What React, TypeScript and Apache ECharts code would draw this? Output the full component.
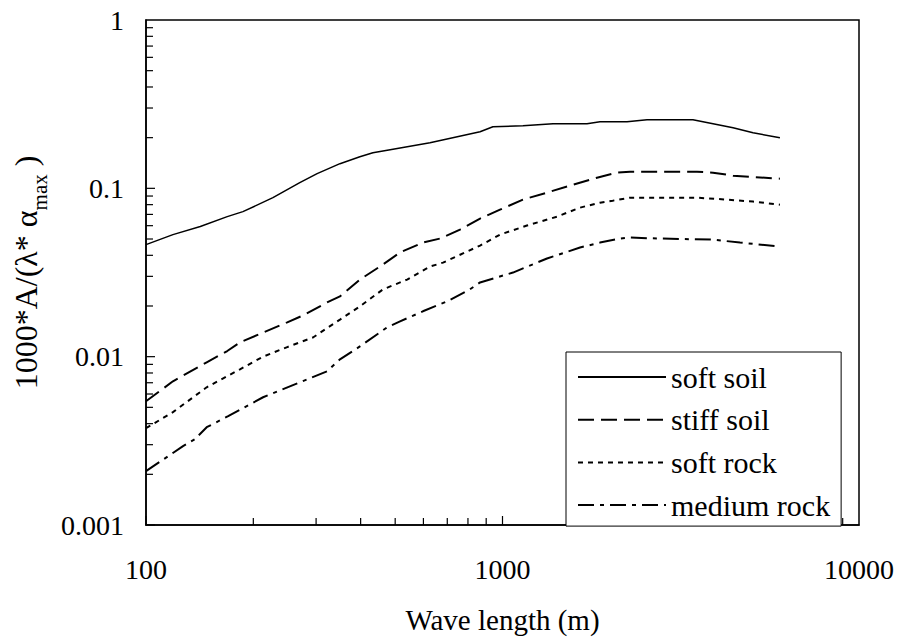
import React, { useEffect, useRef } from "react";
import * as echarts from "echarts";

const FONT = "Liberation Serif";

const seriesNames = ["soft soil", "stiff soil", "soft rock", "medium rock"];

const softSoilX = [100, 119, 142, 169, 187, 227, 270, 302, 350, 398, 433, 484, 626, 865, 940, 1141, 1386, 1726, 1877, 2235, 2543, 3421, 3895, 4433, 5044, 6000];
const softSoilY = [0.0463, 0.0531, 0.0593, 0.0679, 0.0727, 0.088, 0.108, 0.1222, 0.1401, 0.1541, 0.1627, 0.1696, 0.1865, 0.2168, 0.2321, 0.2353, 0.2417, 0.2417, 0.2484, 0.2484, 0.2553, 0.2553, 0.2417, 0.229, 0.2138, 0.1998];

const stiffSoilX = [100, 119, 148, 169, 184, 213, 249, 276, 322, 350, 398, 453, 516, 598, 668, 760, 865, 984, 1141, 1333, 1576, 1841, 2096, 2278, 3513, 3895, 4433, 6000];
const stiffSoilY = [0.00543, 0.00714, 0.00926, 0.0108, 0.0122, 0.0139, 0.016, 0.0176, 0.021, 0.0228, 0.0287, 0.0343, 0.0416, 0.0476, 0.0503, 0.0569, 0.0661, 0.0747, 0.0857, 0.0943, 0.1051, 0.1157, 0.1239, 0.1256, 0.1256, 0.1239, 0.1189, 0.1141];

const softRockX = [100, 119, 148, 183.5, 213, 249, 294, 350, 398, 462, 540, 626, 681, 865, 984, 1171, 1422, 1650, 1877, 2038, 2278, 3513, 4263, 5044, 6000];
const softRockY = [0.00376, 0.00468, 0.00658, 0.00841, 0.01, 0.0114, 0.013, 0.0166, 0.0199, 0.0251, 0.0287, 0.0343, 0.0362, 0.0457, 0.0531, 0.0601, 0.0679, 0.0768, 0.0822, 0.0845, 0.088, 0.088, 0.0857, 0.0834, 0.08];

const mediumRockX = [100, 127, 137, 148, 170, 213, 270, 322, 350, 398, 474, 516, 598, 699, 810, 865, 1070, 1333, 1650, 1877, 2136, 2278, 2766, 3895, 4637, 6000];
const mediumRockY = [0.00209, 0.00294, 0.00323, 0.00381, 0.00443, 0.00574, 0.00704, 0.00819, 0.00964, 0.0115, 0.0149, 0.0162, 0.0186, 0.0213, 0.0251, 0.0276, 0.0316, 0.0383, 0.0445, 0.0476, 0.0503, 0.051, 0.0503, 0.0496, 0.0476, 0.0451];

const xTickLabels = ["100", "1000", "10000"];
const yTickLabels = ["0.001", "0.01", "0.1", "1"];
const xDecades = [100, 1000];
const yDecades = [0.001, 0.01, 0.1];
const minorSteps = [2, 3, 4, 5, 6, 7, 8, 9];

const zip = (xs: number[], ys: number[]) => xs.map((x, i) => [x, ys[i]]);

export default function App() {
  const ref = useRef<HTMLDivElement>(null);
  useEffect(() => {
    if (!ref.current) return;
    const chart = echarts.init(ref.current, undefined, { renderer: "svg" });
    const lineStyles: any[] = [
      { type: "solid", width: 1.5 },
      { type: [16, 7], width: 2 },
      { type: [5, 5], width: 2 },
      { type: [16, 6, 4, 6], width: 2 },
    ];
    const datas = [
      zip(softSoilX, softSoilY),
      zip(stiffSoilX, stiffSoilY),
      zip(softRockX, softRockY),
      zip(mediumRockX, mediumRockY),
    ];
    // tick positions (axis decoration), drawn via the axes' own scales
    const yTicks: number[][] = [];
    yDecades.forEach((d) => {
      yTicks.push([100, d, 9]);
      minorSteps.forEach((m) => yTicks.push([100, d * m, 7]));
    });
    const xTicks: number[][] = [];
    xDecades.forEach((d) => {
      xTicks.push([d, 0.001, 9]);
      minorSteps.forEach((m) => xTicks.push([d * m, 0.001, 7]));
    });

    chart.setOption({
      animation: false,
      backgroundColor: "#fff",
      textStyle: { fontFamily: FONT },
      grid: {
        left: 146,
        right: 39,
        top: 20,
        bottom: 113,
        show: true,
        borderColor: "#000",
        borderWidth: 1.5,
        backgroundColor: "transparent",
      },
      xAxis: {
        type: "log",
        logBase: 10,
        min: 100,
        max: 10000,
        name: "Wave length (m)",
        nameLocation: "middle",
        nameGap: 80,
        nameTextStyle: { fontFamily: FONT, fontSize: 29, color: "#000" },
        axisLine: { show: true, lineStyle: { color: "#000", width: 1.5 } },
        axisTick: { show: false },
        minorTick: { show: false },
        splitLine: { show: false },
        minorSplitLine: { show: false },
        axisLabel: {
          fontFamily: FONT,
          fontSize: 28,
          color: "#000",
          margin: 30,
          formatter: (v: number) => xTickLabels[Math.round(Math.log10(v)) - 2] ?? "",
        },
      },
      yAxis: {
        type: "log",
        logBase: 10,
        min: 0.001,
        max: 1,
        name: "{a|1000*A/(λ* α}{s|max}{a| )}",
        nameLocation: "middle",
        nameGap: 96,
        nameRotate: 90,
        nameTextStyle: {
          fontFamily: FONT,
          color: "#000",
          rich: {
            a: { fontFamily: FONT, fontSize: 32, color: "#000", lineHeight: 36 },
            s: { fontFamily: FONT, fontSize: 21, color: "#000", lineHeight: 36, verticalAlign: "bottom", padding: [0, 0, -6, 0] },
          },
        },
        axisLine: { show: true, lineStyle: { color: "#000", width: 1.5 } },
        axisTick: { show: false },
        minorTick: { show: false },
        splitLine: { show: false },
        minorSplitLine: { show: false },
        axisLabel: {
          fontFamily: FONT,
          fontSize: 28,
          color: "#000",
          margin: 22,
          formatter: (v: number) => yTickLabels[Math.round(Math.log10(v)) + 3] ?? "",
        },
      },
      legend: {
        orient: "vertical",
        left: 566,
        top: 352,
        padding: [10, 11, 6, 11],
        itemGap: 12.7,
        itemWidth: 88,
        itemHeight: 14,
        borderColor: "#000",
        borderWidth: 1,
        backgroundColor: "#fff",
        data: seriesNames,
        itemStyle: { color: "rgba(0,0,0,0)", borderWidth: 0, opacity: 0 },
        textStyle: { fontFamily: FONT, fontSize: 30, color: "#000", lineHeight: 30 },
        z: 10,
      },
      series: [
        ...seriesNames.map((name, i) => ({
          name,
          type: "line",
          data: datas[i],
          symbol: "none",
          showSymbol: false,
          smooth: false,
          color: "#000",
          lineStyle: { color: "#000", ...lineStyles[i] },
          z: 3,
        })),
        {
          type: "custom",
          name: "yTicks",
          silent: true,
          clip: false,
          z: 2,
          data: yTicks,
          renderItem: (params: any, api: any) => {
            const p = api.coord([api.value(0), api.value(1)]);
            const len = api.value(2);
            return {
              type: "line",
              shape: { x1: p[0], y1: p[1], x2: p[0] + len, y2: p[1] },
              style: { stroke: "#000", lineWidth: 1.2 },
            };
          },
        },
        {
          type: "custom",
          name: "xTicks",
          silent: true,
          clip: false,
          z: 2,
          data: xTicks,
          renderItem: (params: any, api: any) => {
            const p = api.coord([api.value(0), api.value(1)]);
            const len = api.value(2);
            return {
              type: "line",
              shape: { x1: p[0], y1: p[1], x2: p[0], y2: p[1] - len },
              style: { stroke: "#000", lineWidth: 1.2 },
            };
          },
        },
      ],
    });
    return () => chart.dispose();
  }, []);
  return <div ref={ref} style={{ width: 898, height: 639, position: "absolute", left: 0, top: 0 }} />;
}
